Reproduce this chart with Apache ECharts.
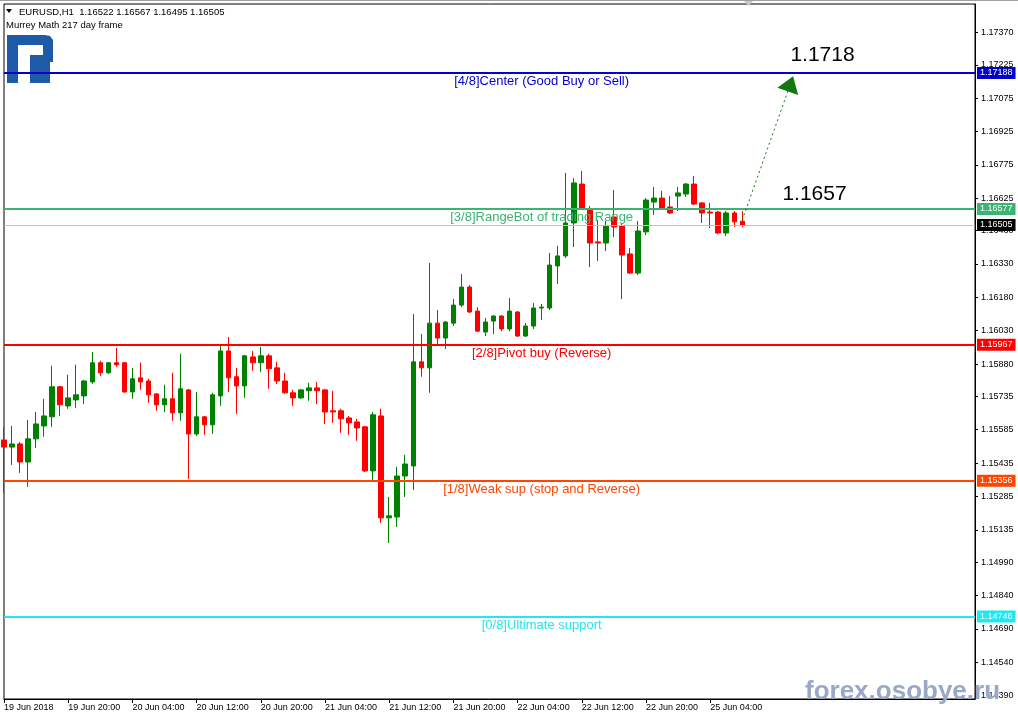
<!DOCTYPE html>
<html><head><meta charset="utf-8">
<script src="https://cdn.jsdelivr.net/npm/echarts@6/dist/echarts.min.js"></script>
<style>html,body{margin:0;padding:0;background:#fff}#c{width:1018px;height:720px}</style>
</head><body><div id="c"></div><script>
// ---- DATA ----
const symbolName = 'EURUSD,H1';
const indicatorName = 'Murrey Math 217 day frame';
const opens = [1.15539,1.15507,1.15521,1.15440,1.15544,1.15602,1.15643,1.15778,1.15692,1.15719,
1.15737,1.15800,1.15886,1.15841,1.15886,1.15886,1.15755,1.15818,1.15804,1.15746,
1.15697,1.15724,1.15661,1.15764,1.15566,1.15643,1.15607,1.15737,1.15939,1.15823,
1.15782,1.15912,1.15886,1.15917,1.15863,1.15804,1.15751,1.15728,1.15760,1.15773,
1.15764,1.15670,1.15670,1.15638,1.15620,1.15598,1.15400,1.15647,1.15189,1.15193,
1.15377,1.15422,1.15890,1.15863,1.16064,1.15997,1.16064,1.16145,1.16226,1.16118,
1.16024,1.16073,1.16096,1.16038,1.16114,1.16006,1.16051,1.16132,1.16132,1.16321,
1.16366,1.16514,1.16689,1.16572,1.16429,1.16424,1.16541,1.16500,1.16375,1.16289,
1.16474,1.16608,1.16626,1.16586,1.16635,1.16644,1.16689,1.16604,1.16563,1.16563,
1.16469,1.16559,1.16522];
const highs = [1.15598,1.15602,1.15530,1.15629,1.15665,1.15724,1.15872,1.15782,1.15832,1.15877,
1.15809,1.15934,1.15895,1.15890,1.15952,1.15890,1.15863,1.15886,1.15814,1.15750,
1.15787,1.15841,1.15926,1.15768,1.15755,1.15647,1.15751,1.15966,1.16002,1.15863,
1.15921,1.15939,1.15957,1.15926,1.15890,1.15841,1.15764,1.15769,1.15796,1.15800,
1.15769,1.15760,1.15679,1.15647,1.15634,1.15602,1.15665,1.15679,1.15283,1.15418,
1.15472,1.16105,1.16015,1.16334,1.16123,1.16073,1.16172,1.16285,1.16235,1.16136,
1.16087,1.16100,1.16100,1.16177,1.16118,1.16064,1.16154,1.16150,1.16379,1.16411,
1.16739,1.16716,1.16748,1.16590,1.16527,1.16523,1.16662,1.16514,1.16402,1.16523,
1.16626,1.16676,1.16658,1.16635,1.16676,1.16694,1.16725,1.16608,1.16604,1.16568,
1.16568,1.16568,1.16567];
const lows = [1.15301,1.15427,1.15391,1.15328,1.15503,1.15553,1.15598,1.15647,1.15679,1.15683,
1.15701,1.15791,1.15827,1.15836,1.15868,1.15751,1.15724,1.15764,1.15706,1.15670,
1.15665,1.15625,1.15625,1.15364,1.15557,1.15562,1.15566,1.15692,1.15755,1.15656,
1.15728,1.15850,1.15845,1.15769,1.15791,1.15746,1.15692,1.15724,1.15715,1.15701,
1.15611,1.15616,1.15571,1.15562,1.15535,1.15395,1.15350,1.15166,1.15076,1.15148,
1.15283,1.15314,1.15823,1.15751,1.15970,1.15948,1.16051,1.16136,1.16110,1.16024,
1.16006,1.16015,1.16028,1.16028,1.16002,1.16002,1.16038,1.16078,1.16123,1.16240,
1.16357,1.16406,1.16572,1.16316,1.16343,1.16388,1.16451,1.16172,1.16285,1.16280,
1.16460,1.16550,1.16577,1.16554,1.16568,1.16631,1.16595,1.16514,1.16491,1.16465,
1.16456,1.16496,1.16495];
const closes = [1.15507,1.15521,1.15440,1.15544,1.15611,1.15647,1.15778,1.15697,1.15728,1.15742,
1.15804,1.15886,1.15841,1.15886,1.15877,1.15755,1.15814,1.15800,1.15742,1.15697,
1.15724,1.15661,1.15769,1.15566,1.15643,1.15607,1.15742,1.15939,1.15818,1.15782,
1.15917,1.15886,1.15917,1.15859,1.15804,1.15751,1.15728,1.15764,1.15773,1.15760,
1.15665,1.15665,1.15634,1.15616,1.15593,1.15400,1.15652,1.15189,1.15198,1.15377,
1.15431,1.15890,1.15863,1.16064,1.15997,1.16069,1.16145,1.16226,1.16114,1.16028,
1.16069,1.16096,1.16038,1.16118,1.16006,1.16051,1.16132,1.16136,1.16325,1.16366,
1.16514,1.16694,1.16581,1.16424,1.16424,1.16500,1.16496,1.16370,1.16289,1.16478,
1.16617,1.16626,1.16581,1.16559,1.16649,1.16689,1.16599,1.16559,1.16559,1.16469,
1.16559,1.16519,1.16505];
const xTickLabels = ['19 Jun 2018','19 Jun 20:00','20 Jun 04:00','20 Jun 12:00','20 Jun 20:00','21 Jun 04:00',
'21 Jun 12:00','21 Jun 20:00','22 Jun 04:00','22 Jun 12:00','22 Jun 20:00','25 Jun 04:00'];
const yTickValues = [1.14390,1.14540,1.14690,1.14840,1.14990,1.15135,1.15285,1.15435,1.15585,1.15735,
1.15880,1.16030,1.16180,1.16330,1.16480,1.16625,1.16775,1.16925,1.17075,1.17225,1.17370];
const levelValues = [1.17188, 1.16577, 1.15967, 1.15356, 1.14746];
const levelNames = ['[4/8]Center (Good Buy or Sell)', '[3/8]RangeBot of trading Range',
  '[2/8]Pivot buy (Reverse)', '[1/8]Weak sup (stop and Reverse)', '[0/8]Ultimate support'];
const targetTexts = ['1.1718', '1.1657'];
const targetAnchors = [[101.7, 1.17269], [100.7, 1.16645]];
const arrowFrom = [92, 1.16527];
const arrowTo = [97.5, 1.17139];

// ---- BUILD ----
const barTimes = [];
(function(){ let d = 19, h = 12;
  for (let i = 0; i < opens.length; i++) {
    barTimes.push(d + ' Jun ' + String(h).padStart(2,'0') + ':00');
    h++; if (h === 24) { h = 0; d++; if (d === 23) d = 25; }
  }})();
const EMPTY_SLOTS = 29;
const categories = barTimes.concat(Array(EMPTY_SLOTS).fill(''));
const candles = opens.map((o, i) => [o, closes[i], lows[i], highs[i]]);
const lastClose = closes[closes.length - 1];
const levelColors = ['#0000CC', '#3CB371', '#FF0000', '#FF4500', '#22E6F0'];
const LABEL_BAR = 67;
const FONT = 'Liberation Sans, Arial, sans-serif';
const isTickIdx = idx => idx % 8 === 0 && idx / 8 < xTickLabels.length;

function boxLabel(v, bg) {
  return { show: true, position: 'end', distance: 2, formatter: v.toFixed(5), color: '#fff',
    backgroundColor: bg, padding: [2, 3, 1, 3], fontSize: 9, fontFamily: FONT };
}
const levelLines = levelValues.map((v, i) => ({ yAxis: v,
  lineStyle: { color: levelColors[i], width: 2, type: 'solid' }, label: boxLabel(v, levelColors[i]) }));
levelLines.push({ yAxis: lastClose, lineStyle: { color: '#C0C0C0', width: 1, type: 'solid' }, label: boxLabel(lastClose, '#000') });

const chart = echarts.init(document.getElementById('c'), null, {renderer: 'canvas'});
chart.setOption({
  animation: false,
  backgroundColor: '#ffffff',
  grid: { left: 4, right: 43, top: 4, bottom: 21, show: true, borderColor: '#000', borderWidth: 1, backgroundColor: '#fff' },
  xAxis: {
    type: 'category', data: categories, boundaryGap: false,
    axisLine: { lineStyle: { color: '#000', width: 1 } },
    axisTick: { show: true, interval: (idx) => isTickIdx(idx), length: 4, lineStyle: { color: '#000' } },
    axisLabel: { interval: (idx) => isTickIdx(idx), align: 'left', margin: 4, fontSize: 9, color: '#000', fontFamily: FONT,
      formatter: (v, idx) => isTickIdx(idx) ? xTickLabels[idx / 8] : '' },
    splitLine: { show: false }
  },
  yAxis: {
    type: 'value', position: 'right', min: 1.14375, max: 1.17498, scale: true,
    axisLine: { show: true, lineStyle: { color: '#000', width: 1 } },
    axisTick: { show: true, length: 3, customValues: yTickValues, lineStyle: { color: '#000' } },
    axisLabel: { customValues: yTickValues, margin: 6, fontSize: 9, color: '#000', fontFamily: FONT,
      formatter: v => v.toFixed(5) },
    splitLine: { show: false }
  },
  graphic: [
    { type: 'line', shape: { x1: 0, y1: 0.5, x2: 1018, y2: 0.5 }, style: { stroke: '#a0a0a0', lineWidth: 1 }, z: 100 },
    { type: 'polygon', shape: { points: [[744,1],[753,1],[748.5,6]] }, style: { fill: '#c8c8c8' }, z: 100 },
    { type: 'polygon', shape: { points: [[6,9],[12,9],[9,13]] }, style: { fill: '#000' }, z: 100 },
    { type: 'text', x: 19, y: 7, style: { text: symbolName + '  1.16522 1.16567 1.16495 1.16505', font: '9.5px ' + FONT, fill: '#000' }, z: 100 },
    { type: 'text', x: 6, y: 20, style: { text: indicatorName, font: '9.5px ' + FONT, fill: '#000' }, z: 100 },
    { type: 'polygon', shape: { points: [[7,35],[45,35],[50,36],[53,40],[53,62],[30,62],[30,55],[43,55],[43,45],[18,45],[18,83],[7,83]] },
      style: { fill: '#1d5aa8' }, z: 1 },
    { type: 'rect', shape: { x: 30, y: 62, width: 20, height: 21 }, style: { fill: '#1d5aa8' }, z: 1 },
    { type: 'text', x: 805, y: 679, style: { text: 'forex.osobye.ru', font: 'bold 26px ' + FONT, fill: '#9aa8c8' }, z: 100 }
  ],
  series: [
    {
      type: 'candlestick', data: candles, barWidth: 5, z: 3,
      itemStyle: { color: '#008000', color0: '#FF0000', borderColor: '#008000', borderColor0: '#FF0000', borderWidth: 1 },
      markLine: {
        silent: true, symbol: ['none', 'none'], precision: 5,
        data: levelLines.concat([[
          { coord: arrowFrom, symbol: 'none' },
          { coord: arrowTo, symbol: 'triangle', symbolSize: [22, 16],
            lineStyle: { color: '#117711', width: 1, type: [2, 3] }, label: { show: false } }
        ]])
      },
      markPoint: {
        symbol: 'circle', symbolSize: 0, silent: true,
        data: levelValues.map((v, i) => ({ coord: [LABEL_BAR, v],
          label: { show: true, position: 'bottom', distance: 2, formatter: levelNames[i], color: levelColors[i], fontSize: 13, fontFamily: FONT } }))
          .concat(targetTexts.map((t, i) => ({ coord: targetAnchors[i],
          label: { show: true, position: 'inside', formatter: t, color: '#000', fontSize: 21, fontFamily: FONT } })))
      }
    }
  ]
});
</script></body></html>
